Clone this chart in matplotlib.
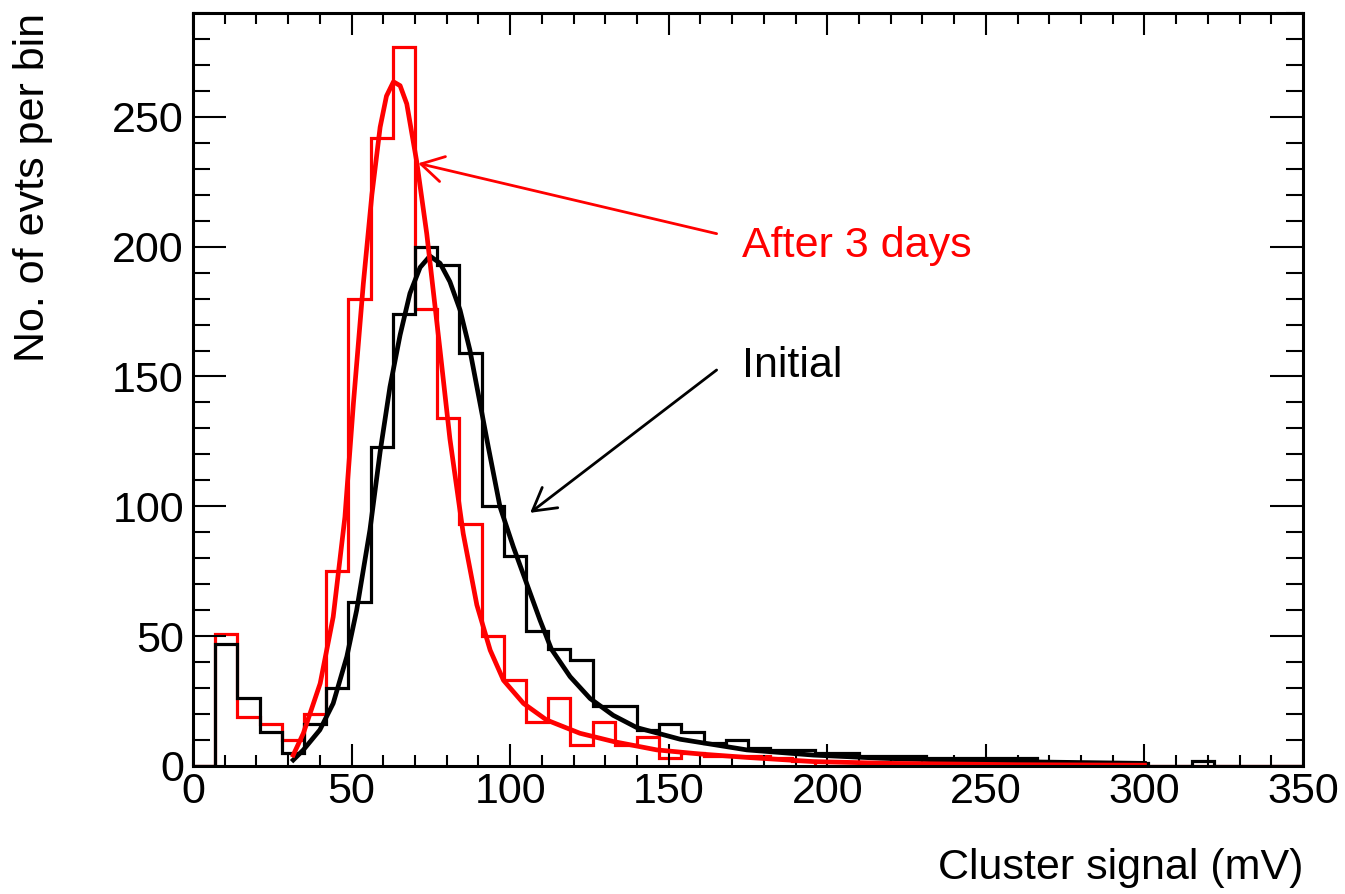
import matplotlib
matplotlib.use("Agg")
import matplotlib.pyplot as plt
import numpy as np
from matplotlib.ticker import MultipleLocator

plt.rcParams['font.family'] = ['Liberation Sans', 'DejaVu Sans']

# bins: 50 bins of 7 mV from 0 to 350
bin_edges = np.arange(0, 351, 7)

# counts per bin
initial_counts = [0, 47, 26, 13, 5, 16, 30, 63, 123, 174,
                  200, 193, 159, 100, 81, 52, 45, 41, 23, 23,
                  14, 16, 13, 9, 10, 7, 6, 6, 5, 5,
                  4, 4, 4, 3, 3, 3, 3, 3, 1, 1,
                  1, 1, 1, 0, 0, 2, 0, 0, 0, 0]
after_counts = [0, 51, 19, 16, 10, 20, 75, 180, 242, 277,
                176, 134, 93, 50, 33, 17, 26, 8, 17, 8,
                11, 3, 5, 4, 4, 4, 3, 2, 0, 0,
                0, 1, 1, 0, 0, 0, 0, 0, 0, 0,
                0, 0, 0, 0, 0, 0, 0, 0, 0, 0]

# fit curves, points
fit_initial_x = [31.6, 34.8, 40.0, 44.2, 48.5, 51.6, 55.8, 59.0, 62.1, 65.3,
                 68.4, 71.6, 74.7, 77.9, 81.0, 84.2, 87.3, 90.5, 93.1, 96.8,
                 101.0, 105.2, 109.4, 113.0, 118.9, 125.2, 132.5, 139.9, 153.6, 174.6,
                 195.6, 216.6, 250.0, 300.0]
fit_initial_y = [2.3, 6.2, 13.9, 24.1, 42.1, 60.0, 91.0, 121.0, 146.0, 166.0,
                 182.0, 192.0, 196.4, 193.6, 186.5, 175.6, 160.2, 139.7, 122.9, 99.8,
                 84.4, 70.3, 56.2, 45.0, 34.4, 26.0, 19.5, 14.8, 10.3, 6.2,
                 4.2, 3.0, 1.8, 1.0]

fit_after_x = [31.6, 34.8, 40.1, 44.2, 47.9, 50.6, 53.7, 56.4, 59.0, 61.0,
               63.2, 65.3, 67.4, 70.5, 73.7, 77.9, 81.0, 85.2, 89.5, 93.7,
               97.9, 104.2, 111.5, 122.0, 132.6, 146.2, 160.0, 174.6, 195.6, 220.0,
               260.0, 300.0]
fit_after_y = [4.2, 12.6, 31.8, 57.4, 95.9, 140.0, 185.7, 220.0, 246.0, 258.0,
               263.5, 262.0, 255.0, 233.0, 205.0, 160.0, 126.0, 89.5, 62.0, 44.6,
               33.0, 24.1, 17.7, 12.6, 9.4, 6.2, 4.6, 3.3, 1.7, 1.0,
               0.5, 0.3]

fig = plt.figure(figsize=(13.45, 8.94), dpi=100)
ax = fig.add_axes([0.1435, 0.1432, 0.8253, 0.8423])

ax.stairs(after_counts, bin_edges, color='#ff0000', lw=2.3)
ax.stairs(initial_counts, bin_edges, color='black', lw=2.3)
ax.plot(fit_initial_x, fit_initial_y, color='black', lw=3.4)
ax.plot(fit_after_x, fit_after_y, color='#ff0000', lw=3.4)

# arrows + labels
ax.annotate('', xy=(71.0, 232.1), xytext=(165.1, 205.0),
            arrowprops=dict(arrowstyle='->,head_length=0.4,head_width=0.23',
                            color='#ff0000', lw=2, shrinkA=0, shrinkB=0,
                            mutation_scale=40))
ax.annotate('', xy=(106.3, 97.5), xytext=(165.1, 152.5),
            arrowprops=dict(arrowstyle='->,head_length=0.4,head_width=0.23',
                            color='black', lw=2, shrinkA=0, shrinkB=0,
                            mutation_scale=40))
ax.text(173.0, 196.0, 'After 3 days', color='#ff0000', fontsize=31, va='baseline', ha='left')
ax.text(173.0, 149.9, 'Initial', color='black', fontsize=31, va='baseline', ha='left')

ax.set_xlim(0, 350)
ax.set_ylim(0, 290)
ax.xaxis.set_major_locator(MultipleLocator(50))
ax.xaxis.set_minor_locator(MultipleLocator(10))
ax.yaxis.set_major_locator(MultipleLocator(50))
ax.yaxis.set_minor_locator(MultipleLocator(10))

ax.tick_params(which='both', direction='in', top=True, right=True, width=1.5, labelsize=31)
ax.tick_params(axis='x', which='major', length=15.6, pad=4)
ax.tick_params(axis='x', which='minor', length=7.9)
ax.tick_params(axis='y', which='major', length=23.5, pad=6.5)
ax.tick_params(axis='y', which='minor', length=12.2)
for s in ax.spines.values():
    s.set_linewidth(2.2)

fig.text(0.9688, 1 - 879 / 894, 'Cluster signal (mV)', fontsize=31, ha='right', va='baseline')
fig.text(0.0099, 0.9855, 'No. of evts per bin', fontsize=31, rotation=90, ha='left', va='top')

plt.savefig('out.png', dpi=100)
